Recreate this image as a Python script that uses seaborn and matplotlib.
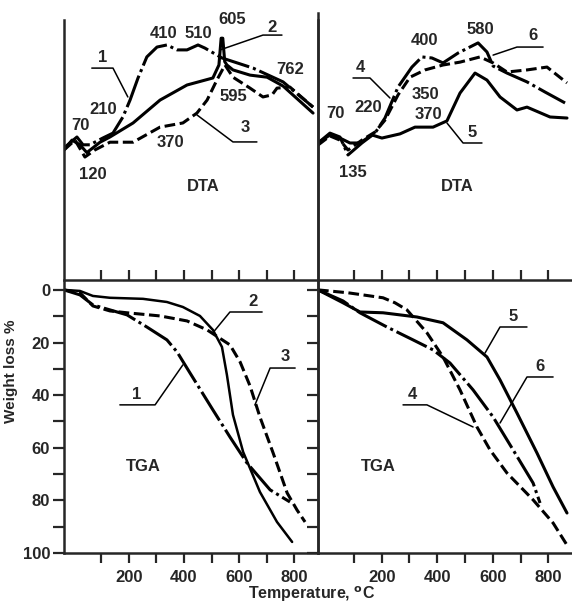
import seaborn as sns
import matplotlib.pyplot as plt

sns.set_style("ticks")
plt.rcParams["font.family"] = ["Liberation Sans", "DejaVu Sans"]
plt.rcParams["font.weight"] = "bold"
plt.rcParams["axes.linewidth"] = 1.8

## Data (temperature in C)
# DTA, arbitrary units
dta1_t = [-36, 11, 33, 58, 105, 142, 178, 204, 233, 265, 302, 338, 375, 411, 451, 476, 538, 651, 760, 869]
dta1_v = [50.8, 55, 52, 52, 54.6, 56.5, 62.7, 69.2, 77.7, 85.8, 89.6, 90.4, 88.5, 88.5, 90.4, 89.2, 85.4, 81.5, 76.2, 66.5]
dta2_t = [-36, -7, 22, 47, 95, 131, 215, 313, 411, 505, 527, 535, 541, 548, 556, 578, 640, 702, 760, 869]
dta2_v = [50, 53.8, 52, 49, 53, 55, 60.4, 69.2, 75, 77.7, 82.7, 93, 93, 84, 82.7, 80.8, 78.8, 78, 74.6, 64.2]
dta3_t = [-36, 4, 40, 76, 131, 215, 313, 396, 447, 484, 520, 549, 578, 640, 687, 720, 738, 785, 869]
dta3_v = [50, 53.8, 47.3, 50, 53, 53, 58.8, 60.4, 64.2, 69.2, 77, 82.7, 78, 73.8, 70.4, 71.2, 73.8, 74.2, 66.5]

dta4_t = [-29, 14, 50, 79, 129, 176, 212, 259, 302, 356, 421, 482, 554, 601, 651, 723, 795, 867]
dta4_v = [51.9, 55.4, 53.8, 50, 53.8, 56.9, 61.5, 71.2, 78, 80.8, 82.7, 83.8, 85.8, 83.5, 80, 80.8, 81.9, 75.8]
dta5_t = [-29, 14, 50, 86, 122, 165, 201, 266, 320, 385, 435, 482, 536, 579, 626, 687, 723, 806, 867]
dta5_v = [52.7, 55.8, 54.6, 52.7, 52.7, 55.8, 54.6, 56.2, 58.8, 58.8, 61.2, 71.9, 79.6, 76.9, 70.4, 65.4, 66.5, 62.7, 62.3]
dta6_t = [-29, 14, 50, 79, 129, 176, 212, 259, 309, 345, 381, 421, 475, 547, 579, 601, 651, 723, 788, 860]
dta6_v = [52.7, 56.5, 55, 48.1, 52.7, 56.5, 62.3, 74.2, 81.9, 85.8, 85.4, 83.5, 87.3, 91.2, 87.7, 82.3, 79.6, 76.2, 72.3, 68.1]

# TGA, weight loss %
tga1_t = [-36, 22, 69, 193, 265, 338, 375, 422, 505, 567, 629, 713, 785]
tga1_w = [0, 1.9, 5.7, 9.5, 14.1, 19, 23.6, 31.6, 45.6, 55.9, 65.8, 76, 80.6]
tga2_t = [-36, 22, 69, 131, 251, 338, 396, 458, 505, 538, 556, 578, 615, 676, 738, 793]
tga2_w = [0, 0.4, 2.3, 3, 3.4, 4.6, 6.5, 9.9, 15.2, 21.7, 32.3, 47.5, 61.6, 76.8, 88.2, 95.8]
tga3_t = [-36, 22, 69, 131, 193, 313, 411, 484, 567, 604, 640, 676, 724, 775, 811, 840]
tga3_w = [0, 1.1, 6.1, 8, 8.7, 9.9, 11.8, 15.2, 20.9, 27.4, 36.5, 48.3, 62, 77.2, 83.7, 88.2]

tga4_t = [-29, 79, 205, 248, 291, 363, 421, 482, 543, 590, 651, 745, 817, 867]
tga4_w = [0, 1.1, 3, 4.9, 7.6, 16.3, 25.5, 38, 52.1, 60.8, 69.6, 79.8, 88.6, 97]
tga5_t = [-29, 61, 122, 205, 327, 421, 507, 579, 626, 687, 759, 817, 867]
tga5_w = [0, 4.9, 8.4, 8.7, 10.3, 12.5, 19, 25.5, 34.2, 46.8, 62, 74.9, 84.8]
tga6_t = [-29, 61, 122, 219, 313, 385, 446, 529, 601, 673, 745, 770]
tga6_w = [0, 4.2, 8.7, 14.1, 19, 22.8, 27.8, 38, 48.3, 60.8, 73.4, 81]

xticks = [100, 200, 300, 400, 500, 600, 700, 800]
xticklabels = ["", "200", "", "400", "", "600", "", "800"]
yticks = [0, 10, 20, 30, 40, 50, 60, 70, 80, 90, 100]
yticklabels = ["0", "", "20", "", "40", "", "60", "", "80", "", "100"]

SOLID = "-"
DASH = (0, (3.5, 1.5))
DASHDOT = (0, (11, 1.3, 1, 1.3))

## Layout (pixel boxes of the original figure)
W, H = 572, 605


def box(x0, y0, x1, y1):
    return [x0 / W, 1 - y1 / H, (x1 - x0) / W, (y1 - y0) / H]


fig = plt.figure(figsize=(W / 100, H / 100), dpi=100)
ax_dl = fig.add_axes(box(64, 20, 318, 280))
ax_dr = fig.add_axes(box(318, 13, 572, 280))
ax_tl = fig.add_axes(box(64, 282, 318, 553))
ax_tr = fig.add_axes(box(318, 282, 572, 553))


def curve(ax, t, v, ls, lw=2.2):
    sns.lineplot(x=t, y=v, ax=ax, color="black", lw=lw, linestyle=ls,
                 sort=False, estimator=None)


def leader(ax, xs, ys):
    ax.plot(xs, ys, color="black", lw=1.1)


def label(ax, x, y, s):
    ax.text(x, y, s, ha="center", va="center", fontsize=12, fontweight="bold")


curve(ax_dl, dta1_t, dta1_v, DASHDOT)
curve(ax_dl, dta2_t, dta2_v, SOLID)
curve(ax_dl, dta3_t, dta3_v, DASH)
curve(ax_dr, dta4_t, dta4_v, DASH)
curve(ax_dr, dta5_t, dta5_v, SOLID)
curve(ax_dr, dta6_t, dta6_v, DASHDOT)
curve(ax_tl, tga1_t, tga1_w, DASHDOT)
curve(ax_tl, tga2_t, tga2_w, SOLID, lw=1.8)
curve(ax_tl, tga3_t, tga3_w, DASH)
curve(ax_tr, tga4_t, tga4_w, DASH)
curve(ax_tr, tga5_t, tga5_w, SOLID)
curve(ax_tr, tga6_t, tga6_w, DASHDOT)

## Axes styling
for ax in [ax_dl, ax_tl]:
    ax.set_xlim(-36, 887)
for ax in [ax_dr, ax_tr]:
    ax.set_xlim(-29, 885)
    ax.spines["right"].set_visible(False)
for ax in [ax_dl, ax_dr, ax_tl, ax_tr]:
    ax.spines["top"].set_visible(False)
    ax.set_xticks(xticks)
    ax.set_xlabel("")
    ax.set_ylabel("")
    ax.patch.set_alpha(0)

ax_dl.set_ylim(0, 100)
ax_dr.set_ylim(0, 102.7)
for ax in [ax_dl, ax_dr]:
    ax.set_yticks([])
    ax.tick_params(axis="x", direction="in", length=7, width=1.6, labelbottom=False)

for ax in [ax_tl, ax_tr]:
    ax.set_ylim(100, -3.0)
    ax.set_yticks(yticks)
    ax.set_xticklabels(xticklabels)
    ax.tick_params(axis="x", direction="out", length=7, width=1.6, pad=5, labelsize=12)
ax_tl.set_yticklabels(yticklabels)
ax_tl.tick_params(axis="y", direction="out", length=8, width=1.6, pad=2, labelsize=12)
ax_tr.tick_params(axis="y", direction="out", length=8, width=1.6, labelleft=False)

ax_tl.set_ylabel("Weight loss %", fontsize=11, fontweight="bold")
ax_tl.yaxis.set_label_coords(-0.18, 0.67)
fig.text(312 / W, 1 - 604 / H, r"Temperature, $^{\mathbf{o}}$C", ha="center",
         va="bottom", fontsize=11.5, fontweight="bold")

## Annotations, left DTA
label(ax_dl, 105, 85.4, "1")
leader(ax_dl, [65, 142, 196], [81.5, 81.5, 70.4])
label(ax_dl, 720, 97.3, "2")
leader(ax_dl, [531, 687, 756], [88.5, 94.2, 94.2])
label(ax_dl, 622, 58.5, "3")
leader(ax_dl, [447, 578, 665], [63.5, 53.1, 53.1])
for x, y, s in [(22, 59.6, "70"), (105, 65.4, "210"), (324, 95, "410"),
                (451, 95, "510"), (575, 100, "605"), (785, 80.8, "762"),
                (578, 70.4, "595"), (349, 52.7, "370"), (69, 40.4, "120"),
                (469, 35.8, "DTA")]:
    label(ax_dl, x, y, s)

## Annotations, right DTA
label(ax_dr, 122, 81.9, "4")
leader(ax_dr, [97, 158, 230], [77.7, 77.7, 70])
label(ax_dr, 745, 94.2, "6")
leader(ax_dr, [601, 687, 781], [86.5, 89.6, 89.6])
label(ax_dr, 525, 56.9, "5")
leader(ax_dr, [435, 493, 561], [60.4, 52.7, 52.7])
for x, y, s in [(32, 64.2, "70"), (151, 66.2, "220"), (356, 92.3, "400"),
                (554, 96.2, "580"), (356, 71.2, "350"), (367, 63.5, "370"),
                (97, 41.5, "135"), (471, 35.8, "DTA")]:
    label(ax_dr, x, y, s)

## Annotations, TGA
label(ax_tl, 229, 39.9, "1")
leader(ax_tl, [167, 295, 396], [43.7, 43.7, 28.5])
label(ax_tl, 651, 4.6, "2")
leader(ax_tl, [505, 567, 684], [16.3, 8.4, 8.4])
label(ax_tl, 767, 25.5, "3")
leader(ax_tl, [658, 713, 804], [43.7, 29.7, 29.7])
label(ax_tl, 251, 67.3, "TGA")

label(ax_tr, 673, 10.3, "5")
leader(ax_tr, [572, 626, 723], [24, 14.1, 14.1])
label(ax_tr, 770, 29.3, "6")
leader(ax_tr, [626, 723, 817], [50.6, 33.1, 33.1])
label(ax_tr, 309, 39.9, "4")
leader(ax_tr, [277, 363, 529], [43.7, 43.7, 52.1])
label(ax_tr, 187, 67.3, "TGA")

fig.savefig("out.png", dpi=100)
